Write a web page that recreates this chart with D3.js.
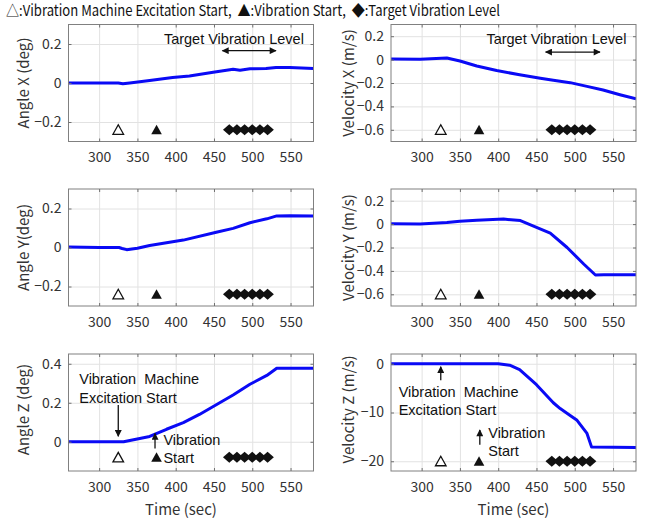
<!DOCTYPE html>
<html>
<head>
<meta charset="utf-8">
<script src="https://cdn.jsdelivr.net/npm/d3@7"></script>
<style>
	body { margin: 0; background: #fff; }
	svg text { font-family: "Noto Sans CJK JP", "Noto Sans", sans-serif; white-space: pre; }
	.grid line { stroke: #e2e2e2; }
	.grid path { display: none; }
	.axis path { display: none; }
	.axis line { stroke: #707070; }
	.axis text { font-size: 14px; fill: #333; }
	.frame { fill: none; stroke: #808080; stroke-width: 1px; }
	.curve { fill: none; stroke: #0a0af5; stroke-width: 3px; stroke-linejoin: round; }
	.ylabel { font-size: 15px; fill: #333; }
	svg text.note { font-family: "Liberation Sans", Arial, sans-serif; font-size: 14.5px; fill: #111; }
</style>
</head>
<body>
<div id="chart"></div>
<script>
// time axis
var xTicks = [300, 350, 400, 450, 500, 550];
var xDomain = [260, 580];

// event markers (sec)
var excitationStart = 325;
var vibrationStart = 375;
var targetLevel = [470, 480, 490, 500, 510, 520];

// series [time, value]
var angleX = [[260, 0], [300, 0], [325, 0], [331, -0.004], [340, 0], [366, 0.013], [396, 0.028],
	[418, 0.036], [449, 0.055], [475, 0.07], [484, 0.065], [497, 0.073], [518, 0.074], [531, 0.08],
	[549, 0.079], [580, 0.074]];
var velocityX = [[260, 0.005], [298, 0.003], [333, 0.014], [350, -0.012], [372, -0.055], [398, -0.093],
	[428, -0.13], [455, -0.16], [472, -0.177], [494, -0.197], [516, -0.229], [537, -0.26], [559, -0.3],
	[580, -0.335]];
var angleY = [[260, 0.002], [300, 0], [326, 0], [330, -0.005], [336, -0.011], [350, -0.004], [366, 0.01],
	[410, 0.038], [453, 0.078], [475, 0.098], [497, 0.127], [519, 0.147], [532, 0.162], [549, 0.163],
	[580, 0.161]];
var velocityY = [[260, 0.003], [298, 0], [333, 0.014], [350, 0.025], [372, 0.033], [407, 0.043],
	[429, 0.03], [468, -0.077], [490, -0.2], [512, -0.343], [527, -0.435], [538, -0.432], [580, -0.432]];
var angleZ = [[260, 0], [332, 0], [366, 0.027], [388, 0.064], [410, 0.098], [431, 0.14], [453, 0.19],
	[475, 0.24], [497, 0.295], [519, 0.34], [532, 0.377], [580, 0.377]];
var velocityZ = [[260, 0], [400, 0], [415, -0.3], [428, -1.2], [450, -4.3], [472, -8], [481, -9.2],
	[494, -10.6], [503, -11.6], [516, -14.3], [522, -17.1], [580, -17.2]];

var series = [angleX, velocityX, angleY, velocityY, angleZ, velocityZ];
var yLabels = ["Angle X (deg)", "Velocity X (m/s)", "Angle Y(deg)", "Velocity Y (m/s)", "Angle Z (deg)", "Velocity Z (m/s)"];
var yDomains = [[-0.3, 0.3], [-0.7, 0.3], [-0.3, 0.3], [-0.7, 0.3], [-0.15, 0.45], [-22, 2]];
var yTicks = [[-0.2, 0, 0.2], [-0.6, -0.4, -0.2, 0, 0.2], [-0.2, 0, 0.2], [-0.6, -0.4, -0.2, 0, 0.2], [0, 0.2, 0.4], [-20, -10, 0]];
var markerLevel = [-0.24, -0.6, -0.24, -0.6, -0.08, -20];

var legendText = "\u25B3:Vibration Machine Excitation Start,  \u25B2:Vibration Start,  \u25C6:Target Vibration Level";

// annotations: [panel, time, value of first line, lines, anchor]
var notes = [
	[0, 476, 0.227, ["Target Vibration Level"], "middle"],
	[1, 476, 0.172, ["Target Vibration Level"], "middle"],
	[4, 274, 0.32, ["Vibration  Machine", "Excitation Start"], "start"],
	[4, 384, 0.011, ["Vibration", "Start"], "start"],
	[5, 270, -5.7, ["Vibration  Machine", "Excitation Start"], "start"],
	[5, 387, -14.2, ["Vibration", "Start"], "start"]
];
// arrows: [panel, t1, v1, t2, v2, double]
var arrows = [
	[0, 461, 0.166, 531, 0.166, true],
	[1, 462, 0.064, 533, 0.064, true],
	[4, 325, 0.188, 325, 0.028, false],
	[4, 373, -0.034, 373, 0.042, false],
	[5, 325, -3.4, 325, -0.6, false],
	[5, 376, -16.6, 376, -13.6, false]
];

var W = 651, H = 518;
var colX = [68.5, 391], rowY = [24.5, 189, 354];
var pw = 245, ph = 117;

var svg = d3.select("#chart").append("svg")
	.attr("width", W).attr("height", H);

var defs = svg.append("defs");
defs.append("marker")
	.attr("id", "head")
	.attr("viewBox", "0 0 10 10")
	.attr("refX", 9).attr("refY", 5)
	.attr("markerWidth", 8).attr("markerHeight", 7)
	.attr("markerUnits", "userSpaceOnUse")
	.attr("orient", "auto-start-reverse")
	.append("path").attr("d", "M0,0L10,5L0,10Z").attr("fill", "#111");

svg.append("text")
	.attr("x", 6).attr("y", 15.5)
	.attr("textLength", 494)
	.attr("lengthAdjust", "spacingAndGlyphs")
	.style("font-size", "15px").style("fill", "#111")
	.text(legendText);

function triangle(cx, cy) {
	return "M" + cx + "," + (cy - 5) + "L" + (cx + 5.3) + "," + (cy + 4.5) + "L" + (cx - 5.3) + "," + (cy + 4.5) + "Z";
}
function diamond(cx, cy) {
	return "M" + cx + "," + (cy - 5.5) + "L" + (cx + 6.3) + "," + cy + "L" + cx + "," + (cy + 5.5) + "L" + (cx - 6.3) + "," + cy + "Z";
}

series.forEach(function (data, i) {
	var col = i % 2, row = Math.floor(i / 2);
	var g = svg.append("g")
		.attr("transform", "translate(" + colX[col] + "," + rowY[row] + ")");

	var x = d3.scaleLinear().domain(xDomain).range([0, pw]);
	var y = d3.scaleLinear().domain(yDomains[i]).range([ph, 0]);

	g.append("g").attr("class", "grid")
		.attr("transform", "translate(0," + ph + ")")
		.call(d3.axisBottom(x).tickValues(xTicks).tickSize(-ph).tickFormat(""));
	g.append("g").attr("class", "grid")
		.call(d3.axisLeft(y).tickValues(yTicks[i]).tickSize(-pw).tickFormat(""));

	g.append("clipPath").attr("id", "clip" + i)
		.append("rect").attr("width", pw).attr("height", ph);

	var line = d3.line()
		.x(function (d) { return x(d[0]); })
		.y(function (d) { return y(d[1]); });

	g.append("path")
		.datum(data)
		.attr("class", "curve")
		.attr("clip-path", "url(#clip" + i + ")")
		.attr("d", line);

	// event markers
	var lv = y(markerLevel[i]);
	g.append("path").attr("d", triangle(x(excitationStart), lv))
		.attr("fill", "#fff").attr("stroke", "#111").attr("stroke-width", 1.3);
	g.append("path").attr("d", triangle(x(vibrationStart), lv))
		.attr("fill", "#111");
	g.selectAll(".dia").data(targetLevel).enter().append("path")
		.attr("class", "dia")
		.attr("d", function (t) { return diamond(x(t), lv); })
		.attr("fill", "#111");

	g.append("rect").attr("class", "frame")
		.attr("width", pw).attr("height", ph);

	var fmt = d3.format("");
	g.append("g").attr("class", "axis")
		.attr("transform", "translate(0," + ph + ")")
		.call(d3.axisBottom(x).tickValues(xTicks).tickSize(-3).tickPadding(11));
	g.append("g").attr("class", "axis")
		.call(d3.axisTop(x).tickValues(xTicks).tickSize(-3).tickFormat(""));
	g.append("g").attr("class", "axis")
		.call(d3.axisLeft(y).tickValues(yTicks[i]).tickSize(-3).tickPadding(7).tickFormat(fmt));
	g.append("g").attr("class", "axis")
		.attr("transform", "translate(" + pw + ",0)")
		.call(d3.axisRight(y).tickValues(yTicks[i]).tickSize(-3).tickFormat(""));

	g.append("text").attr("class", "ylabel")
		.attr("transform", "translate(" + (col === 0 ? -46.5 : -43.5) + "," + (ph / 2 - (row === 2 ? 3 : 0)) + ") rotate(-90)")
		.attr("text-anchor", "middle")
		.attr("dominant-baseline", "central")
		.text(yLabels[i]);

	if (row === 2) {
		g.append("text").attr("class", "ylabel")
			.attr("x", col === 0 ? 112.5 : 122.5).attr("y", ph + 37)
			.attr("text-anchor", "middle")
			.attr("dominant-baseline", "central")
			.text("Time (sec)");
	}

	notes.filter(function (n) { return n[0] === i; }).forEach(function (n) {
		var t = g.append("text").attr("class", "note")
			.attr("text-anchor", n[4]);
		n[3].forEach(function (s, k) {
			t.append("tspan")
				.attr("x", x(n[1]))
				.attr("y", y(n[2]) + 5 + k * 18.5)
				.text(s);
		});
	});

	arrows.filter(function (a) { return a[0] === i; }).forEach(function (a) {
		var p = g.append("line")
			.attr("x1", x(a[1])).attr("y1", y(a[2]))
			.attr("x2", x(a[3])).attr("y2", y(a[4]))
			.attr("stroke", "#111").attr("stroke-width", 1.3)
			.attr("marker-end", "url(#head)");
		if (a[5]) p.attr("marker-start", "url(#head)");
	});
});
</script>
</body>
</html>
